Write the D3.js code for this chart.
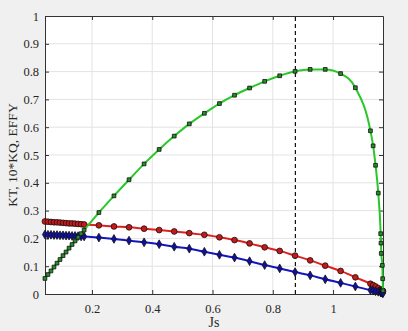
<!DOCTYPE html>
<html>
<head>
<meta charset="utf-8">
<script src="https://cdn.jsdelivr.net/npm/d3@7"></script>
<style>
  body { margin: 0; background: #f0f0f0; }
  svg { display: block; }
</style>
</head>
<body>
<div id="chart"></div>
<script>
// Js values (shared by all three series)
var js = [0.044, 0.054, 0.064, 0.074, 0.084, 0.094, 0.104, 0.114, 0.124, 0.134, 0.144, 0.154, 0.164, 0.174,
          0.223, 0.273, 0.323, 0.373, 0.423, 0.473, 0.523, 0.573, 0.623, 0.673, 0.723, 0.773, 0.823, 0.874, 0.924, 0.974, 1.025, 1.074,
          1.124, 1.133, 1.141, 1.150, 1.158, 1.159, 1.160, 1.1635, 1.1646, 1.1657];

var kt = [0.261, 0.260, 0.259, 0.258, 0.258, 0.257, 0.256, 0.255, 0.254, 0.254, 0.253, 0.252, 0.251, 0.250,
          0.247, 0.243, 0.240, 0.235, 0.230, 0.225, 0.219, 0.213, 0.204, 0.194, 0.182, 0.168, 0.155, 0.138, 0.121, 0.102, 0.083, 0.060,
          0.037, 0.032, 0.027, 0.021, 0.016, 0.015, 0.014, 0.012, 0.011, 0.010];

var kq10 = [0.214, 0.213, 0.213, 0.212, 0.212, 0.211, 0.211, 0.210, 0.210, 0.209, 0.209, 0.208, 0.207, 0.207,
            0.203, 0.198, 0.192, 0.186, 0.179, 0.170, 0.163, 0.152, 0.141, 0.131, 0.118, 0.104, 0.092, 0.079, 0.067, 0.053, 0.040, 0.027,
            0.014, 0.012, 0.010, 0.008, 0.006, 0.006, 0.005, 0.004, 0.004, 0.003];

var effy = [0.056, 0.070, 0.083, 0.097, 0.111, 0.124, 0.138, 0.151, 0.165, 0.178, 0.191, 0.204, 0.217, 0.230,
            0.293, 0.353, 0.411, 0.468, 0.520, 0.568, 0.612, 0.650, 0.685, 0.715, 0.741, 0.765, 0.785, 0.801, 0.808, 0.808, 0.793, 0.742,
            0.587, 0.533, 0.463, 0.363, 0.217, 0.183, 0.146, 0.103, 0.055, 0.012];

var xTicks = [0.2, 0.4, 0.6, 0.8, 1];
var yTicks = [0, 0.1, 0.2, 0.3, 0.4, 0.5, 0.6, 0.7, 0.8, 0.9, 1];
var designJs = 0.875;

var width = 408, height = 331;
var margin = { top: 16, right: 25, bottom: 37, left: 45 };

var svg = d3.select("#chart").append("svg")
    .attr("width", width)
    .attr("height", height)
    .style("font-family", "'Liberation Serif', 'Times New Roman', serif");

svg.append("rect").attr("width", width).attr("height", height).attr("fill", "#f0f0f0");

var x = d3.scaleLinear().domain([0.0442, 1.1657]).range([margin.left, width - margin.right]);
var y = d3.scaleLinear().domain([0, 1]).range([height - margin.bottom, margin.top]);

var x0 = x.range()[0], x1 = x.range()[1], y0 = y.range()[0], y1 = y.range()[1];

// plot area
svg.append("rect")
    .attr("x", x0).attr("y", y1)
    .attr("width", x1 - x0).attr("height", y0 - y1)
    .attr("fill", "#ffffff");

// grid
svg.append("g").selectAll("line").data(xTicks).enter().append("line")
    .attr("x1", d => x(d)).attr("x2", d => x(d))
    .attr("y1", y0).attr("y2", y1)
    .attr("stroke", "#e3e3e3").attr("stroke-width", 1);
svg.append("g").selectAll("line").data(yTicks.slice(1, -1)).enter().append("line")
    .attr("x1", x0).attr("x2", x1)
    .attr("y1", d => y(d)).attr("y2", d => y(d))
    .attr("stroke", "#e3e3e3").attr("stroke-width", 1);

// axes (ticks inward, box on)
svg.append("g").attr("transform", "translate(0," + y0 + ")")
    .call(d3.axisBottom(x).tickValues(xTicks).tickFormat(d3.format("")).tickSizeInner(-4).tickSizeOuter(0).tickPadding(10));
svg.append("g").attr("transform", "translate(" + x0 + ",0)")
    .call(d3.axisLeft(y).tickValues(yTicks).tickFormat(d3.format("")).tickSizeInner(-4).tickSizeOuter(0).tickPadding(6));
svg.append("g").attr("transform", "translate(0," + y1 + ")")
    .call(d3.axisTop(x).tickValues(xTicks).tickFormat("").tickSizeInner(-4).tickSizeOuter(0));
svg.append("g").attr("transform", "translate(" + x1 + ",0)")
    .call(d3.axisRight(y).tickValues(yTicks).tickFormat("").tickSizeInner(-4).tickSizeOuter(0));

svg.selectAll(".domain").attr("stroke", "#333");
svg.selectAll(".tick line").attr("stroke", "#333");
svg.selectAll(".tick text").attr("fill", "#262626").style("font-size", "12.5px")
    .style("font-family", "'Liberation Serif', 'Times New Roman', serif");

// axis labels
svg.append("text")
    .attr("x", (x0 + x1) / 2).attr("y", 327)
    .attr("text-anchor", "middle")
    .attr("fill", "#262626").style("font-size", "14px")
    .text("Js");
svg.append("text")
    .attr("transform", "translate(17," + ((y0 + y1) / 2) + ") rotate(-90)")
    .attr("text-anchor", "middle")
    .attr("fill", "#262626").style("font-size", "13.5px")
    .text("KT, 10*KQ, EFFY");

// design point
svg.append("line")
    .attr("x1", x(designJs)).attr("x2", x(designJs))
    .attr("y1", y(0)).attr("y2", y(1))
    .attr("stroke", "#111").attr("stroke-width", 1.2)
    .attr("stroke-dasharray", "4,3");

var series = [
  { values: kt,   line: "#dd2020", fill: "#c81818", symbol: d3.symbolCircle,  size: 26 },
  { values: kq10, line: "#1414c0", fill: "#1010a0", symbol: d3.symbolDiamond, size: 22 },
  { values: effy, line: "#28c828", fill: "#2a8a2a", symbol: d3.symbolSquare,  size: 14 }
];

var line = d3.line()
    .x(d => x(d[0]))
    .y(d => y(d[1]))
    .curve(d3.curveMonotoneX);

series.forEach(function(s) {
  var pts = js.map((j, i) => [j, s.values[i]]);
  svg.append("path")
      .datum(pts)
      .attr("d", line)
      .attr("fill", "none")
      .attr("stroke", s.line)
      .attr("stroke-width", 2);
  svg.append("g").selectAll("path").data(pts).enter().append("path")
      .attr("transform", d => "translate(" + x(d[0]) + "," + y(d[1]) + ")")
      .attr("d", d3.symbol().type(s.symbol).size(s.size))
      .attr("fill", s.fill)
      .attr("stroke", "#111")
      .attr("stroke-width", 0.8);
});
</script>
</body>
</html>
